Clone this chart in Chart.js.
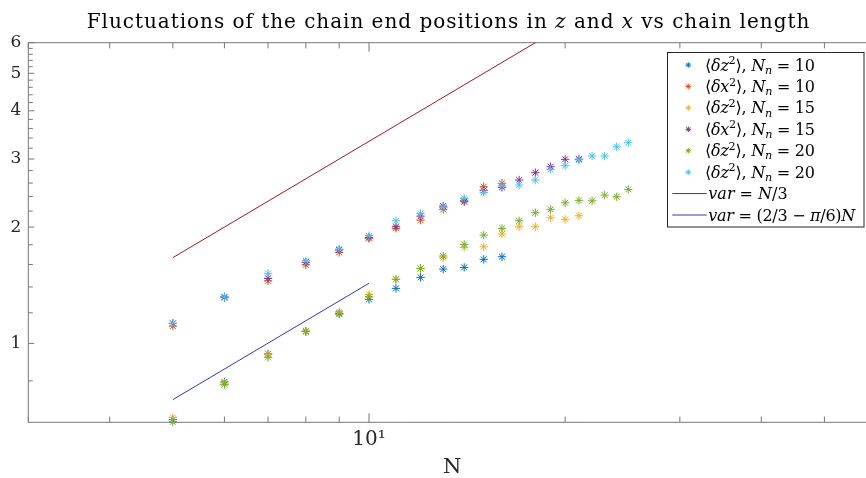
<!DOCTYPE html>
<html><head><meta charset="utf-8">
<script src="https://cdn.jsdelivr.net/npm/chart.js@4/dist/chart.umd.min.js"></script>
<style>
html,body{margin:0;padding:0;background:#fff;overflow:hidden;}
#wrap{position:relative;width:900px;height:478px;}
canvas{display:block;}
</style></head><body>
<div id="wrap"><canvas id="c" width="900" height="478"></canvas></div>
<script>
// ---------- data ----------
const chainN10 = [5,6,7,8,9,10,11,12,13,14,15,16];
const chainN15 = [5,6,7,8,9,10,11,12,13,14,15,16,17,18,19,20,21];
const chainN20 = [5,6,7,8,9,10,11,12,13,14,15,16,17,18,19,20,21,22,23,24,25];

const dz2Nn10 = [0.635,0.795,0.940,1.076,1.196,1.300,1.388,1.482,1.557,1.573,1.650,1.676];
const dx2Nn10 = [1.109,1.313,1.452,1.598,1.720,1.869,1.985,2.085,2.222,2.345,2.544,2.596];
const dz2Nn15 = [0.643,0.790,0.938,1.076,1.207,1.339,1.465,1.560,1.666,1.772,1.778,1.919,2.004,2.004,2.114,2.094,2.140];
const dx2Nn15 = [1.127,1.320,1.473,1.621,1.745,1.880,2.004,2.135,2.267,2.326,2.490,2.534,2.647,2.765,2.866,2.995,2.998];
const dz2Nn20 = [0.627,0.783,0.920,1.072,1.190,1.320,1.465,1.564,1.683,1.804,1.907,1.985,2.077,2.178,2.223,2.312,2.345,2.339,2.420,2.396,2.504];
const dz2Nn20b = [1.127,1.320,1.518,1.636,1.754,1.899,2.077,2.170,2.249,2.374,2.460,2.559,2.570,2.647,2.821,2.884,2.985,3.054,3.054,3.228,3.306];

const refLineN = [5, 25];
const refLineVar = [1.667, 8.333];      // var = N/3
const fitLineN = [5, 10];
const fitLineVar = [0.7154, 1.431];     // var = (2/3 - pi/6) N

const xTickValues = [3,4,5,6,7,8,9,10,20,30,40,50,60];
const xTickLabels = ['','','','','','','','10\u00B9','','','','',''];
const yTickValues = [0.8,1,1.2,1.4,1.6,1.8,2,2.2,2.4,2.6,2.8,3,3.2,3.4,3.6,3.8,4,4.2,4.4,4.6,4.8,5,5.2,5.4,5.6,5.8,6];
const yTickLabels = ['','1','','','','','2','','','','','3','','','','','4','','','','','5','','','','','6'];

const titleParts = [["Fluctuations of the chain end positions in ",'r'],["z",'i'],[" and ",'r'],["x",'i'],[" vs chain length",'r']];
const legendLabels = [
  [["\u27E8",'r'],["\u03B4z",'i'],["2",'sup'],["\u27E9, ",'r'],["N",'i'],["n",'isub'],[" = 10",'r']],
  [["\u27E8",'r'],["\u03B4x",'i'],["2",'sup'],["\u27E9, ",'r'],["N",'i'],["n",'isub'],[" = 10",'r']],
  [["\u27E8",'r'],["\u03B4z",'i'],["2",'sup'],["\u27E9, ",'r'],["N",'i'],["n",'isub'],[" = 15",'r']],
  [["\u27E8",'r'],["\u03B4x",'i'],["2",'sup'],["\u27E9, ",'r'],["N",'i'],["n",'isub'],[" = 15",'r']],
  [["\u27E8",'r'],["\u03B4z",'i'],["2",'sup'],["\u27E9, ",'r'],["N",'i'],["n",'isub'],[" = 20",'r']],
  [["\u27E8",'r'],["\u03B4z",'i'],["2",'sup'],["\u27E9, ",'r'],["N",'i'],["n",'isub'],[" = 20",'r']],
  [["var",'i'],[" = ",'r'],["N",'i'],["/3",'r']],
  [["var",'i'],[" = (2/3 \u2212 ",'r'],["\u03C0",'i'],["/6)",'r'],["N",'i']]
];
const legendWidths = [110,110,110,110,110,110,0,147];

const colors = ['#0072BD','#D95319','#EDB120','#7E2F8E','#77AC30','#4DBEEE','#A2142F','#2F3CA6'];

// ---------- style ----------
const FONT = '"DejaVu Serif", serif';
const TXT = '#262626';
const AXIS = '#777777';
const AREA = {left:28.3, top:42.7, bottom:422.3, right:876};
const Y_MIN = 0.625, Y_MAX = 6, X_MIN = 3, X_MAX = 60;

function pts(xs, ys){ return xs.map((v,i)=>({x:v, y:ys[i]})); }

function scatterDs(xs, ys, c, ord){
  return {data:pts(xs,ys), showLine:false, pointStyle:'star', pointRadius:4.2,
    pointBorderWidth:1, borderColor:c, backgroundColor:c, pointBorderColor:c, clip:false, order:ord};
}
function lineDs(xs, ys, c, ord){
  return {data:pts(xs,ys), showLine:true, pointRadius:0, borderWidth:1, borderColor:c,
    backgroundColor:c, order:ord, fill:false};
}

const datasets = [
  scatterDs(chainN10, dz2Nn10, colors[0], 7),
  scatterDs(chainN10, dx2Nn10, colors[1], 6),
  scatterDs(chainN15, dz2Nn15, colors[2], 5),
  scatterDs(chainN15, dx2Nn15, colors[3], 4),
  scatterDs(chainN20, dz2Nn20, colors[4], 3),
  scatterDs(chainN20, dz2Nn20b, colors[5], 2),
  lineDs(refLineN, refLineVar, colors[6], 1),
  lineDs(fitLineN, fitLineVar, colors[7], 0)
];

function setFont(ctx, st, size){
  let fs = size, it = (st === 'i' || st === 'isub');
  if (st === 'sup' || st === 'isub') fs = size*0.7;
  ctx.font = (it ? 'italic ' : '') + fs.toFixed(2) + 'px ' + FONT;
}
function richWidth(ctx, parts, size){
  let w = 0, n = 0;
  for (const [t, st] of parts){
    setFont(ctx, st, size);
    for (const ch of t){ w += ctx.measureText(ch).width; n++; }
  }
  return {w, n};
}
// draws rich text so that it spans targetW (letter spacing fills the rest)
function drawRichFit(ctx, parts, x, y, size, targetW){
  const {w, n} = richWidth(ctx, parts, size);
  const ls = targetW ? (targetW - w) / Math.max(1, n - 1) : 0;
  for (const [t, st] of parts){
    let dy = 0;
    if (st === 'sup') dy = -size*0.4;
    if (st === 'isub') dy = size*0.2;
    setFont(ctx, st, size);
    for (const ch of t){
      ctx.fillText(ch, x, y + dy);
      x += ctx.measureText(ch).width + ls;
    }
  }
  return x;
}

function drawStar(ctx, x, y, r){
  ctx.beginPath();
  ctx.moveTo(x-r, y); ctx.lineTo(x+r, y);
  ctx.moveTo(x, y-r); ctx.lineTo(x, y+r);
  const d = r*Math.SQRT1_2;
  ctx.moveTo(x-d, y-d); ctx.lineTo(x+d, y+d);
  ctx.moveTo(x-d, y+d); ctx.lineTo(x+d, y-d);
  ctx.stroke();
}

const framePlugin = {
  id:'frame',
  beforeDatasetsDraw(chart){
    const {ctx, chartArea:a, scales:{x, y}} = chart;
    ctx.save();
    ctx.strokeStyle = AXIS; ctx.lineWidth = 1;
    ctx.beginPath();
    ctx.rect(a.left, a.top, a.right - a.left, a.bottom - a.top);
    ctx.stroke();
    ctx.beginPath();
    x.ticks.forEach(t => {
      const px = x.getPixelForValue(t.value);
      const len = t.label ? 9 : 5.7;
      ctx.moveTo(px, a.bottom); ctx.lineTo(px, a.bottom - len);
      ctx.moveTo(px, a.top); ctx.lineTo(px, a.top + len);
    });
    y.ticks.forEach(t => {
      const py = y.getPixelForValue(t.value);
      const len = t.label ? 6 : 4.5;
      ctx.moveTo(a.left, py); ctx.lineTo(a.left + len, py);
      ctx.moveTo(a.right, py); ctx.lineTo(a.right - len, py);
    });
    ctx.stroke();
    ctx.restore();
  },
  afterDraw(chart){
    const ctx = chart.ctx;
    ctx.save();
    ctx.textBaseline = 'alphabetic';
    ctx.textAlign = 'left';
    ctx.fillStyle = '#000';
    drawRichFit(ctx, titleParts, 86.7, 27.5, 20, 722.6);

    // legend
    const L = {x:667.5, y:52.5, w:196.5, h:174.5};
    ctx.fillStyle = '#fff';
    ctx.fillRect(L.x, L.y, L.w, L.h);
    ctx.strokeStyle = TXT; ctx.lineWidth = 1;
    ctx.strokeRect(L.x, L.y, L.w, L.h);
    const lfs = 16;
    legendLabels.forEach((parts, i) => {
      const cy = 65 + i*21.43;
      const ds = chart.data.datasets[i];
      ctx.strokeStyle = ds.borderColor;
      ctx.lineWidth = 1;
      if (ds.showLine){
        ctx.beginPath(); ctx.moveTo(672.3, cy); ctx.lineTo(706.7, cy); ctx.stroke();
        ctx.fillStyle = '#000';
        drawRichFit(ctx, parts, 708.3, cy + 5.5, lfs, legendWidths[i]);
      } else {
        drawStar(ctx, 688.3, cy, 2.8);
        ctx.fillStyle = '#000';
        drawRichFit(ctx, parts, 705, cy + 5.5, lfs, legendWidths[i]);
      }
    });
    ctx.restore();
  }
};

new Chart(document.getElementById('c'), {
  type:'scatter',
  data:{datasets},
  options:{
    responsive:false, animation:false, devicePixelRatio:1,
    layout:{padding:{top:AREA.top, right:900 - AREA.right, left:0, bottom:0}},
    plugins:{legend:{display:false}, tooltip:{enabled:false}, title:{display:false}},
    scales:{
      x:{
        type:'logarithmic', min:X_MIN, max:X_MAX, bounds:'data', position:'bottom',
        grid:{display:false, drawTicks:false}, border:{display:false},
        afterBuildTicks:(s)=>{ s.min = X_MIN; s.max = X_MAX; s.ticks = xTickValues.map(v=>({value:v})); },
        afterFit:(s)=>{ s.height = 478 - AREA.bottom; },
        ticks:{autoSkip:false, maxRotation:0, minRotation:0, padding:5, color:TXT,
          font:{family:FONT, size:20},
          callback:(v, i)=> xTickLabels[i]},
        title:{display:true, text:'N', color:TXT, font:{family:FONT, size:21, lineHeight:1}, padding:0}
      },
      y:{
        type:'logarithmic', min:Y_MIN, max:Y_MAX, bounds:'data', position:'left',
        grid:{display:false, drawTicks:false}, border:{display:false},
        afterBuildTicks:(s)=>{ s.min = Y_MIN; s.max = Y_MAX; s.ticks = yTickValues.map(v=>({value:v})); },
        afterFit:(s)=>{ s.width = AREA.left; },
        ticks:{autoSkip:false, padding:7, color:TXT, font:{family:FONT, size:17},
          callback:(v, i)=> yTickLabels[i]}
      }
    }
  },
  plugins:[framePlugin]
});
</script>
</body></html>
